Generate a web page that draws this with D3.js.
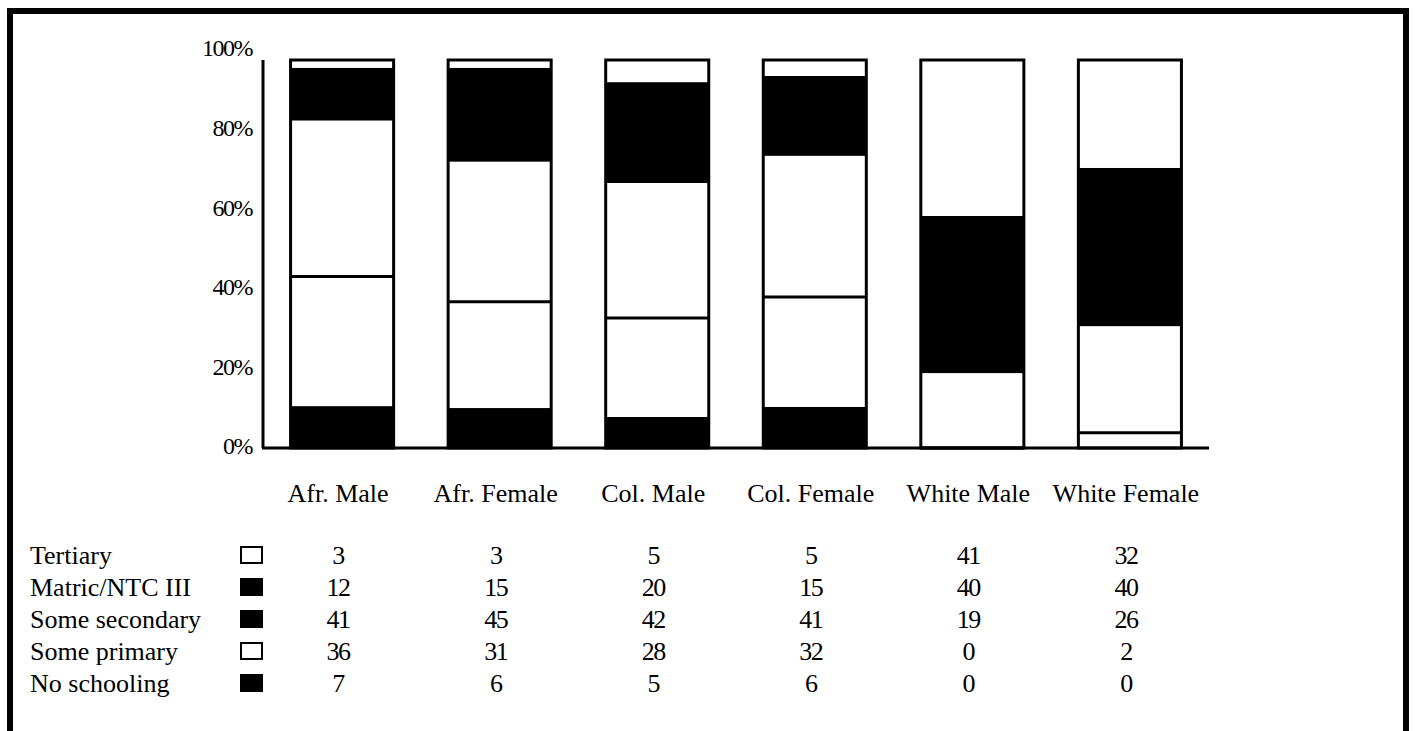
<!DOCTYPE html>
<html>
<head>
<meta charset="utf-8">
<script src="https://cdn.jsdelivr.net/npm/d3@7"></script>
<style>
  body { margin: 0; background: #fff; }
</style>
</head>
<body>
<div id="chart"></div>
<script>
const FONT = "'Liberation Serif', 'DejaVu Serif', 'Times New Roman', Times, serif";

// categories (bars / table columns)
const groups = ["Afr. Male", "Afr. Female", "Col. Male", "Col. Female", "White Male", "White Female"];

// series, listed top to bottom as in the table
const levels = ["Tertiary", "Matric/NTC III", "Some secondary", "Some primary", "No schooling"];

// values printed in the table
const tertiary      = [3, 3, 5, 5, 41, 32];
const matric        = [12, 15, 20, 15, 40, 40];
const someSecondary = [41, 45, 42, 41, 19, 26];
const somePrimary   = [36, 31, 28, 32, 0, 2];
const noSchooling   = [7, 6, 5, 6, 0, 0];

// segment heights as drawn in the bars (they don't quite agree with the table)
const barTertiary      = [2, 2, 5.7, 4.1, 40.2, 27.8];
const barMatric        = [13.6, 24.2, 26, 20.6, 40.5, 40.8];
const barSomeSecondary = [40.2, 36.1, 34.8, 36.4, 19.3, 27.5];
const barSomePrimary   = [33.4, 27.4, 25.5, 28.3, 0, 3.9];
const barNoSchooling   = [10.8, 10.3, 8, 10.6, 0, 0];

// fill used in the bars and in the legend swatches
const barFill    = ["#fff", "#000", "#fff", "#fff", "#000"];
const swatchFill = ["#fff", "#000", "#000", "#fff", "#000"];

const yTicks = [0, 20, 40, 60, 80, 100];

const W = 1416, H = 731;
const svg = d3.select("#chart").append("svg")
    .attr("width", W)
    .attr("height", H)
    .attr("font-family", FONT);

// outer frame
svg.append("rect")
    .attr("x", 10).attr("y", 11)
    .attr("width", 1396).attr("height", 745)
    .attr("fill", "none")
    .attr("stroke", "#000")
    .attr("stroke-width", 6);

const tableValues = [tertiary, matric, someSecondary, somePrimary, noSchooling];
const barValues = [barTertiary, barMatric, barSomeSecondary, barSomePrimary, barNoSchooling];

// rows for d3.stack (bottom series first)
const keys = levels.slice().reverse();
const rows = groups.map((g, i) => {
    const r = { group: g };
    levels.forEach((l, j) => { r[l] = barValues[j][i]; });
    return r;
});
const stacked = d3.stack().keys(keys)(rows);

const x = d3.scaleBand()
    .domain(groups)
    .range([263, 1209])
    .paddingInner(0.346)
    .paddingOuter(0.175);

const y = d3.scaleLinear()
    .domain([0, 100])
    .range([448, 60]);

// y labels sit slightly above true positions in the original
const yLab = d3.scaleLinear()
    .domain([0, 100])
    .range([446, 48]);

// bars
stacked.forEach(s => {
    const li = levels.indexOf(s.key);
    svg.append("g").selectAll("rect")
        .data(s)
        .enter().append("rect")
        .attr("x", d => x(d.data.group))
        .attr("y", d => y(d[1]))
        .attr("width", x.bandwidth())
        .attr("height", d => y(d[0]) - y(d[1]))
        .attr("fill", barFill[li]);
});

// line between the two white segments (primary / secondary)
stacked.forEach((s, k) => {
    if (k === 0) return;
    const below = stacked[k - 1];
    const liA = levels.indexOf(s.key), liB = levels.indexOf(below.key);
    if (barFill[liA] !== "#fff" || barFill[liB] !== "#fff") return;
    svg.append("g").selectAll("line")
        .data(s)
        .enter().append("line")
        .attr("x1", d => x(d.data.group))
        .attr("x2", d => x(d.data.group) + x.bandwidth())
        .attr("y1", d => y(d[0]))
        .attr("y2", d => y(d[0]))
        .attr("stroke", "#000")
        .attr("stroke-width", 3);
});

// bar outlines
const topSeries = stacked[stacked.length - 1];
svg.append("g").selectAll("rect")
    .data(topSeries)
    .enter().append("rect")
    .attr("x", d => x(d.data.group))
    .attr("y", d => y(d[1]))
    .attr("width", x.bandwidth())
    .attr("height", d => y(0) - y(d[1]))
    .attr("fill", "none")
    .attr("stroke", "#000")
    .attr("stroke-width", 3);

// axes lines
svg.append("line")
    .attr("x1", 263).attr("x2", 263)
    .attr("y1", y(100)).attr("y2", y(0))
    .attr("stroke", "#000").attr("stroke-width", 3);
svg.append("line")
    .attr("x1", 262).attr("x2", 1209)
    .attr("y1", y(0)).attr("y2", y(0))
    .attr("stroke", "#000").attr("stroke-width", 3);

// y labels
svg.append("g").selectAll("text")
    .data(yTicks)
    .enter().append("text")
    .attr("x", 252)
    .attr("y", d => yLab(d))
    .attr("dy", "0.35em")
    .attr("text-anchor", "end")
    .attr("font-family", FONT)
    .attr("font-size", 24)
    .attr("letter-spacing", -1.5)
    .text(d => d + "%");

// category labels
svg.append("g").selectAll("text")
    .data(groups)
    .enter().append("text")
    .attr("x", d => x(d) + x.bandwidth() / 2 - 4)
    .attr("y", 493)
    .attr("dy", "0.35em")
    .attr("text-anchor", "middle")
    .attr("font-family", FONT)
    .attr("font-size", 26)
    .text(d => d);

// table
const rowY = d3.scalePoint()
    .domain(levels)
    .range([555, 683]);

const table = svg.append("g");
table.selectAll(".lab")
    .data(levels)
    .enter().append("text")
    .attr("class", "lab")
    .attr("x", 30)
    .attr("y", d => rowY(d))
    .attr("dy", "0.35em")
    .attr("font-family", FONT)
    .attr("font-size", 26)
    .text(d => d);

table.selectAll(".sw")
    .data(levels)
    .enter().append("rect")
    .attr("class", "sw")
    .attr("x", 241)
    .attr("y", d => rowY(d) - 8)
    .attr("width", 21)
    .attr("height", 16)
    .attr("fill", (d, i) => swatchFill[i])
    .attr("stroke", "#000")
    .attr("stroke-width", 2);

levels.forEach((l, j) => {
    table.append("g").selectAll("text")
        .data(tableValues[j])
        .enter().append("text")
        .attr("x", (d, i) => x(groups[i]) + x.bandwidth() / 2 - 4)
        .attr("y", rowY(l))
        .attr("dy", "0.35em")
        .attr("text-anchor", "middle")
        .attr("font-family", FONT)
        .attr("font-size", 26)
        .attr("letter-spacing", -1.5)
        .text(d => d);
});
</script>
</body>
</html>
